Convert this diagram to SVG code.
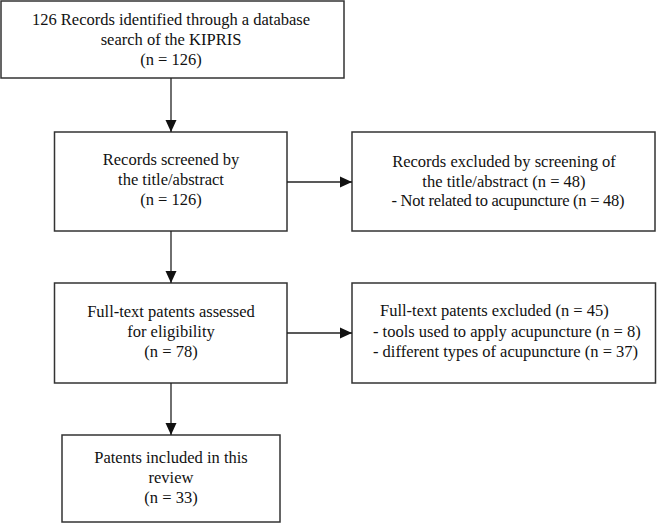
<svg xmlns="http://www.w3.org/2000/svg" width="657" height="523" viewBox="0 0 657 523">
<style>
.box{fill:#fff;stroke:#333;stroke-width:1.5}
.t{font-family:"Liberation Serif","Times New Roman",serif;font-size:16.5px;fill:#111}
.c{text-anchor:middle}
.edge{stroke:#222;stroke-width:1.3;fill:none}
</style>
<defs>
<marker id="ah" markerUnits="userSpaceOnUse" markerWidth="12" markerHeight="12" viewBox="0 0 12 12" refX="12" refY="6" orient="auto">
<path d="M0,0.5 L12,6 L0,11.5 Z" fill="#111"/>
</marker>
</defs>
<rect width="657" height="523" fill="#fff"/>
<g id="n1">
<rect class="box" x="1" y="1" width="343" height="77"/>
<text class="t c" x="171" y="25">126 Records identified through a database</text>
<text class="t c" x="171" y="45">search of the KIPRIS</text>
<text class="t c" x="171" y="65">(n = 126)</text>
</g>
<g id="n2">
<rect class="box" x="54.5" y="132" width="232.5" height="99"/>
<text class="t c" x="171" y="165">Records screened by</text>
<text class="t c" x="171" y="185">the title/abstract</text>
<text class="t c" x="171" y="205">(n = 126)</text>
</g>
<g id="n3">
<rect class="box" x="352" y="132" width="303" height="99"/>
<text class="t c" x="504" y="167">Records excluded by screening of</text>
<text class="t c" x="504" y="187">the title/abstract (n = 48)</text>
<text class="t c" x="508" y="206" textLength="233">- Not related to acupuncture (n = 48)</text>
</g>
<g id="n4">
<rect class="box" x="54.5" y="283" width="232.5" height="100"/>
<text class="t c" x="171" y="317">Full-text patents assessed</text>
<text class="t c" x="171" y="337">for eligibility</text>
<text class="t c" x="171" y="357">(n = 78)</text>
</g>
<g id="n5">
<rect class="box" x="352" y="283" width="303.5" height="100"/>
<text class="t" x="380" y="316">Full-text patents excluded (n = 45)</text>
<text class="t" x="373" y="337">- tools used to apply acupuncture (n = 8)</text>
<text class="t" x="373" y="357">- different types of acupuncture (n = 37)</text>
</g>
<g id="n6">
<rect class="box" x="62" y="435" width="218" height="87"/>
<text class="t c" x="171" y="463">Patents included in this</text>
<text class="t c" x="171" y="483">review</text>
<text class="t c" x="171" y="503">(n = 33)</text>
</g>
<g id="connectors">
<line class="edge" x1="171" y1="78" x2="171" y2="132" marker-end="url(#ah)"/>
<line class="edge" x1="171" y1="231" x2="171" y2="283" marker-end="url(#ah)"/>
<line class="edge" x1="171" y1="383" x2="171" y2="435" marker-end="url(#ah)"/>
<line class="edge" x1="287" y1="182" x2="352" y2="182" marker-end="url(#ah)"/>
<line class="edge" x1="287" y1="333" x2="352" y2="333" marker-end="url(#ah)"/>
</g>
</svg>
